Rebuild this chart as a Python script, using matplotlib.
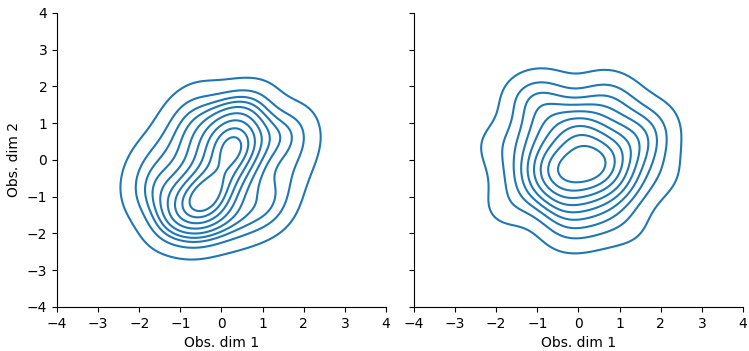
import numpy as np
import matplotlib
matplotlib.use("Agg")
import matplotlib.pyplot as plt

# hand-read observation samples for each panel
left_x = [-0.5, -0.3, -0.4, -0.2, -0.35, 0.3, 0.2, 0.4, 0.3, 0.0,
          -0.8, -0.9, -0.6, 0.1, 0.3, -0.6, -0.3, 0.6, 0.5, 0.0, 0.7, -1.0, -0.1, 0.4, -0.5, 0.2,
          1.0, 1.2, 0.8, 0.2, -0.5, -1.3, -1.5, -1.2, -0.7, 0.0, 0.6, 1.1, -1.0, -1.5, 1.5, -0.3, -1.1,
          1.7, 1.7, 0.8, 0.2, -0.9, -1.7, -1.8, -1.2, -0.2, 0.8, 1.4,
          1.9, 1.3, -0.6, -1.9, -0.6, 0.4]
left_y = [-1.0, -0.8, -0.7, -1.0, -0.95, 0.4, 0.2, 0.3, 0.35, -0.3,
          -1.2, -0.6, -1.4, -0.9, -0.5, -0.3, 0.1, 0.0, 0.8, 0.6, 0.5, -1.0, -1.3, -0.2, 0.3, 0.9,
          1.0, 0.3, -0.6, -1.5, -1.7, -1.5, -0.7, 0.0, 0.6, 1.2, 1.4, -1.1, -1.7, -1.2, 0.8, 0.9, 0.8,
          0.9, -0.2, 1.5, 1.5, 1.3, 0.2, -0.9, -1.8, -1.9, -1.6, -0.8,
          0.4, -1.5, 1.6, -0.4, -2.0, -1.8]

right_x = [0.0, -0.05, 0.05, -0.3, 0.2, 0.4, -0.05, 0.1, -0.6, 0.6,
           0.6, 0.5, 0.7, -0.6, -0.5, -0.4, 0.2, -0.1, 0.3, -0.7, 0.8, -0.2, 0.45, -0.55, 0.0, -0.75,
           1.1, 1.0, 0.8, 0.3, -0.3, -0.8, -1.1, -1.2, -0.9, -0.4, 0.2, 0.7, 1.2, 1.25, -0.6, 1.0, -1.0,
           1.6, 1.4, 1.1, 0.3, -0.6, -1.4, -1.6, -1.3, -0.4, 0.6, 1.5,
           1.9, 2.0, 1.2, -0.3, -1.8, -2.0, -1.2, 0.6,
           -1.3, -0.7, 1.0, 1.9, 0.3]
right_y = [0.45, 0.45, 0.5, -0.2, -0.2, -0.1, -0.3, -0.15, -0.15, -0.15,
           0.3, -0.5, -0.2, -0.1, -0.5, 0.5, 0.9, -0.9, -0.6, 0.2, 0.1, 1.0, 0.55, -0.6, -0.8, -0.3,
           0.3, -0.5, 0.8, 1.1, 1.1, 0.8, 0.3, -0.3, -0.8, -1.1, -1.2, -1.0, -0.1, 0.6, -1.2, -0.9, 1.1,
           0.2, -0.8, 1.3, 1.6, 1.5, 0.7, -0.3, -1.0, -1.6, -1.5, 0.9,
           1.1, -0.4, -1.8, -2.0, -1.3, 0.4, 1.8, 1.9,
           1.6, 1.9, 1.7, 0.5, -1.9]

n_levels = 10
thresh = 0.05


def kde_grid(xs, ys, gx, gy):
    data = np.vstack([xs, ys])
    n = data.shape[1]
    factor = n ** (-1.0 / 6)  # scott
    cov = np.cov(data) * factor ** 2
    inv = np.linalg.inv(cov)
    norm = 1.0 / (2 * np.pi * np.sqrt(np.linalg.det(cov)) * n)
    XX, YY = np.meshgrid(gx, gy)
    dens = np.zeros_like(XX)
    for px, py in zip(xs, ys):
        dx = XX - px
        dy = YY - py
        q = inv[0, 0] * dx * dx + 2 * inv[0, 1] * dx * dy + inv[1, 1] * dy * dy
        dens += np.exp(-0.5 * q)
    return XX, YY, dens * norm


def contour_levels(dens):
    isoprop = np.linspace(thresh, 1, n_levels)
    vals = np.sort(dens.ravel())[::-1]
    cum = np.cumsum(vals) / vals.sum()
    idx = np.searchsorted(cum, 1 - isoprop)
    lev = np.take(vals, idx, mode="clip")
    return np.unique(lev)


gx = np.linspace(-4, 4, 300)
gy = np.linspace(-4, 4, 300)

fig = plt.figure(figsize=(7.49, 3.51), dpi=100)
ax1 = fig.add_axes([0.0761, 0.1254, 0.4392, 0.8376])
ax2 = fig.add_axes([0.5527, 0.1254, 0.4392, 0.8376], sharey=ax1)

for ax, xs, ys in [(ax1, left_x, left_y), (ax2, right_x, right_y)]:
    XX, YY, dens = kde_grid(np.array(xs), np.array(ys), gx, gy)
    ax.contour(XX, YY, dens, levels=contour_levels(dens), colors="#1f77b4", linewidths=1.5)
    ax.set_xlim(-4, 4)
    ax.set_ylim(-4, 4)
    ax.set_xticks(range(-4, 5))
    ax.set_yticks(range(-4, 5))
    ax.spines["top"].set_visible(False)
    ax.spines["right"].set_visible(False)
    ax.set_xlabel("Obs. dim 1")

ax1.set_ylabel("Obs. dim 2")
plt.setp(ax2.get_yticklabels(), visible=False)

fig.savefig("out.png", dpi=100)
